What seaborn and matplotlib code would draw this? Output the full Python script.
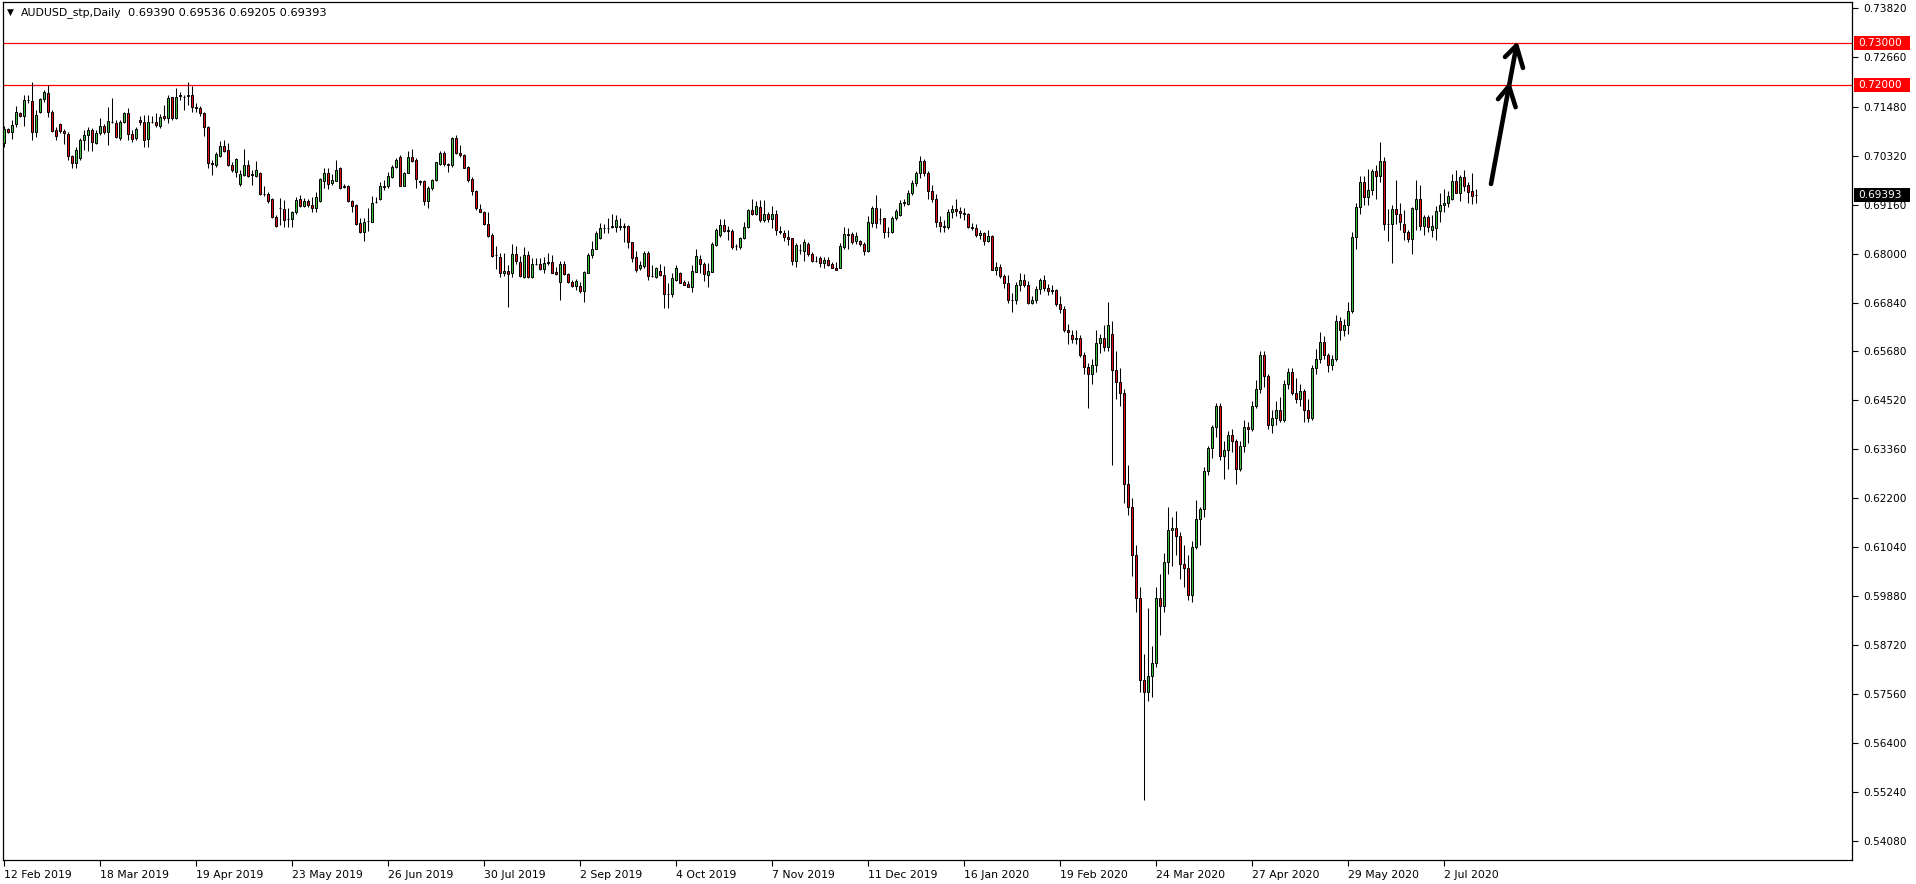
import numpy as np
import pandas as pd
import matplotlib
matplotlib.use("Agg")
import matplotlib.pyplot as plt
import matplotlib.transforms as mtransforms
from matplotlib.patches import Rectangle
import seaborn as sns

# AUDUSD daily candles, 12 Feb 2019 - 14 Jul 2020
opens = [
    .7063, .7095, .7087, .7106, .7132, .7127, .7164, .7162, .7087, .7135,
    .7166, .7180, .7136, .7093, .7106, .7091, .7083, .7031, .7014, .7026,
    .7068, .7081, .7093, .7063, .7085, .7102, .7087, .7113, .7110, .7075,
    .7111, .7134, .7083, .7073, .7117, .7113, .7071, .7113, .7111, .7102,
    .7126, .7121, .7170, .7122, .7173, .7172, .7173, .7177, .7148, .7146,
    .7132, .7101, .7014, .7010, .7032, .7055, .7045, .7011, .6994, .6966,
    .6986, .7010, .6988, .6985, .6990, .6942, .6941, .6929, .6887, .6907,
    .6905, .6881, .6881, .6898, .6929, .6913, .6925, .6914, .6909, .6925,
    .6972, .6990, .6968, .6972, .7004, .6958, .6960, .6925, .6915, .6872,
    .6851, .6877, .6876, .6922, .6929, .6958, .6959, .6982, .7006, .7028,
    .6961, .6992, .7028, .7022, .6971, .6972, .6925, .6955, .6974, .7012,
    .7038, .7012, .7009, .7073, .7038, .7034, .7005, .6976, .6949, .6905,
    .6899, .6871, .6843, .6797, .6791, .6753, .6759, .6753, .6799, .6781,
    .6745, .6797, .6745, .6775, .6775, .6763, .6777, .6780, .6757, .6733,
    .6775, .6751, .6732, .6724, .6723, .6712, .6755, .6797, .6812, .6836,
    .6860, .6860, .6862, .6864, .6866, .6864, .6865, .6827, .6791, .6767,
    .6771, .6801, .6748, .6745, .6759, .6749, .6704, .6704, .6738, .6753,
    .6732, .6728, .6722, .6757, .6787, .6775, .6749, .6757, .6820, .6843,
    .6868, .6855, .6854, .6817, .6816, .6836, .6862, .6903, .6893, .6910,
    .6880, .6893, .6882, .6895, .6853, .6848, .6839, .6836, .6783, .6808,
    .6806, .6823, .6800, .6783, .6789, .6778, .6786, .6775, .6767, .6767,
    .6816, .6846, .6846, .6830, .6830, .6822, .6807, .6873, .6909, .6882,
    .6884, .6850, .6850, .6884, .6891, .6921, .6917, .6943, .6967, .6991,
    .7019, .6990, .6949, .6930, .6875, .6866, .6862, .6898, .6905, .6900,
    .6897, .6895, .6863, .6860, .6845, .6848, .6830, .6842, .6762, .6769,
    .6747, .6730, .6690, .6691, .6726, .6737, .6725, .6683, .6690, .6715,
    .6738, .6718, .6712, .6713, .6680, .6668, .6620, .6608, .6598, .6600,
    .6560, .6532, .6514, .6536, .6588, .6600, .6578, .6610, .6525, .6495,
    .6470, .6255, .6200, .6085, .5985, .5790, .5760, .5800, .5830, .5985,
    .5965, .6070, .6145, .6150, .6130, .6065, .6055, .5990, .6105, .6170,
    .6195, .6285, .6340, .6390, .6440, .6320, .6335, .6370, .6355, .6290,
    .6345, .6390, .6385, .6440, .6480, .6560, .6510, .6395, .6410, .6430,
    .6405, .6490, .6520, .6470, .6455, .6475, .6430, .6410, .6530, .6550,
    .6590, .6560, .6535, .6550, .6640, .6620, .6630, .6665, .6840, .6910,
    .6970, .6935, .6950, .6995, .6985, .7020, .6870, .6870, .6905, .6895,
    .6870, .6850, .6834, .6905, .6929, .6865, .6886, .6856, .6860, .6902,
    .6914, .6921, .6929, .6972, .6944, .6982, .6963, .6948, .69390,
]
highs = [
    .7102, .7097, .7117, .7150, .7136, .7176, .7176, .7206, .7140, .7168,
    .7188, .7200, .7140, .7101, .7109, .7095, .7089, .7034, .7053, .7073,
    .7093, .7099, .7097, .7093, .7121, .7107, .7148, .7168, .7117, .7117,
    .7136, .7144, .7093, .7099, .7126, .7128, .7128, .7126, .7132, .7130,
    .7152, .7176, .7172, .7192, .7182, .7177, .7206, .7198, .7156, .7150,
    .7136, .7103, .7022, .7041, .7067, .7069, .7061, .7016, .7026, .6998,
    .7048, .7022, .6998, .7019, .6993, .6959, .6947, .6931, .6891, .6932,
    .6927, .6907, .6901, .6935, .6939, .6931, .6930, .6935, .6947, .6978,
    .7004, .7002, .6988, .7022, .7006, .6964, .6963, .6927, .6917, .6884,
    .6884, .6907, .6937, .6935, .6969, .6974, .6994, .7010, .7026, .7034,
    .6994, .7042, .7048, .7026, .6974, .6974, .6959, .6976, .7018, .7042,
    .7042, .7014, .7077, .7081, .7057, .7036, .7007, .6982, .6951, .6917,
    .6901, .6898, .6849, .6818, .6802, .6802, .6773, .6822, .6818, .6795,
    .6816, .6806, .6790, .6790, .6790, .6792, .6801, .6797, .6769, .6783,
    .6783, .6754, .6737, .6740, .6733, .6759, .6802, .6830, .6853, .6873,
    .6869, .6884, .6893, .6891, .6884, .6872, .6868, .6828, .6805, .6782,
    .6806, .6805, .6773, .6769, .6775, .6771, .6730, .6753, .6773, .6757,
    .6738, .6734, .6773, .6811, .6797, .6779, .6777, .6828, .6860, .6881,
    .6882, .6866, .6858, .6822, .6840, .6874, .6905, .6929, .6925, .6927,
    .6927, .6899, .6913, .6903, .6865, .6856, .6856, .6838, .6824, .6823,
    .6834, .6828, .6803, .6794, .6795, .6793, .6792, .6781, .6781, .6826,
    .6864, .6860, .6852, .6850, .6832, .6828, .6890, .6913, .6939, .6907,
    .6885, .6864, .6888, .6906, .6927, .6929, .6951, .6975, .6995, .7032,
    .7024, .6995, .6962, .6942, .6890, .6880, .6905, .6915, .6930, .6910,
    .6907, .6897, .6872, .6870, .6856, .6850, .6856, .6843, .6779, .6776,
    .6752, .6750, .6706, .6732, .6754, .6752, .6735, .6700, .6724, .6742,
    .6750, .6728, .6725, .6717, .6700, .6675, .6632, .6620, .6620, .6606,
    .6566, .6540, .6550, .6620, .6610, .6630, .6686, .6640, .6570, .6530,
    .6480, .6300, .6220, .6110, .6010, .5850, .5960, .5870, .6010, .6040,
    .6090, .6200, .6175, .6190, .6140, .6110, .6085, .6120, .6215, .6200,
    .6295, .6345, .6395, .6445, .6445, .6355, .6380, .6385, .6360, .6355,
    .6405, .6400, .6450, .6500, .6570, .6570, .6515, .6430, .6450, .6460,
    .6500, .6530, .6530, .6505, .6490, .6480, .6455, .6535, .6575, .6615,
    .6605, .6565, .6560, .6655, .6650, .6645, .6685, .6850, .6920, .6985,
    .6985, .7000, .7000, .7010, .7064, .7030, .6905, .6915, .6975, .6920,
    .6903, .6856, .6911, .6974, .6963, .6891, .6891, .6891, .6913, .6943,
    .6952, .6948, .6988, .6998, .6986, .6998, .6970, .6992, .69536,
]
lows = [
    .7052, .7085, .7071, .7101, .7123, .7102, .7156, .7068, .7077, .7132,
    .7160, .7124, .7089, .7069, .7085, .7060, .7022, .7004, .7002, .7022,
    .7046, .7042, .7042, .7060, .7081, .7083, .7057, .7109, .7075, .7069,
    .7109, .7069, .7065, .7069, .7105, .7052, .7053, .7109, .7101, .7098,
    .7116, .7109, .7117, .7119, .7164, .7140, .7152, .7135, .7136, .7127,
    .7079, .7004, .6986, .7006, .7030, .7040, .7008, .6994, .6982, .6959,
    .6985, .6982, .6963, .6982, .6939, .6937, .6919, .6885, .6864, .6868,
    .6864, .6864, .6864, .6895, .6911, .6911, .6910, .6898, .6898, .6922,
    .6955, .6953, .6962, .6971, .6953, .6955, .6923, .6899, .6868, .6848,
    .6830, .6854, .6874, .6919, .6927, .6951, .6955, .6980, .7004, .6959,
    .6959, .6990, .7018, .6956, .6962, .6915, .6909, .6951, .6972, .7010,
    .7008, .6994, .7006, .7035, .7030, .7002, .6970, .6939, .6903, .6898,
    .6868, .6839, .6793, .6763, .6745, .6748, .6674, .6745, .6776, .6744,
    .6743, .6743, .6743, .6772, .6761, .6753, .6774, .6753, .6749, .6690,
    .6749, .6730, .6722, .6714, .6706, .6686, .6753, .6790, .6811, .6835,
    .6848, .6848, .6860, .6852, .6856, .6828, .6814, .6779, .6757, .6761,
    .6765, .6738, .6745, .6741, .6748, .6670, .6670, .6698, .6734, .6730,
    .6725, .6721, .6708, .6756, .6753, .6734, .6722, .6756, .6819, .6840,
    .6852, .6832, .6811, .6809, .6812, .6834, .6860, .6891, .6891, .6876,
    .6876, .6876, .6860, .6844, .6846, .6830, .6820, .6773, .6769, .6800,
    .6782, .6794, .6781, .6779, .6769, .6767, .6771, .6765, .6760, .6765,
    .6812, .6812, .6822, .6822, .6819, .6797, .6804, .6864, .6861, .6869,
    .6838, .6839, .6848, .6880, .6890, .6913, .6916, .6938, .6960, .6980,
    .6985, .6930, .6923, .6862, .6850, .6852, .6858, .6885, .6890, .6885,
    .6880, .6860, .6855, .6840, .6835, .6820, .6827, .6760, .6750, .6742,
    .6718, .6683, .6662, .6680, .6712, .6722, .6680, .6680, .6684, .6705,
    .6712, .6702, .6705, .6675, .6660, .6614, .6585, .6589, .6585, .6555,
    .6515, .6434, .6490, .6520, .6565, .6570, .6570, .6300, .6455, .6440,
    .6210, .6180, .6035, .5950, .5760, .5506, .5740, .5750, .5820, .5895,
    .5950, .6040, .6060, .6085, .6030, .6010, .5980, .5975, .6100, .6110,
    .6175, .6275, .6315, .6365, .6310, .6265, .6290, .6330, .6255, .6285,
    .6330, .6350, .6380, .6435, .6470, .6485, .6385, .6375, .6395, .6400,
    .6400, .6480, .6465, .6445, .6440, .6400, .6400, .6405, .6515, .6540,
    .6550, .6520, .6525, .6545, .6595, .6605, .6610, .6660, .6810, .6895,
    .6915, .6915, .6940, .6930, .6970, .6855, .6830, .6777, .6870, .6855,
    .6832, .6828, .6800, .6856, .6856, .6844, .6850, .6840, .6832, .6876,
    .6899, .6911, .6927, .6943, .6925, .6948, .6921, .6918, .69205,
]
closes = [
    .7095, .7087, .7105, .7135, .7127, .7164, .7164, .7087, .7128, .7166,
    .7182, .7136, .7091, .7079, .7091, .7085, .7031, .7014, .7046, .7069,
    .7081, .7093, .7065, .7085, .7102, .7087, .7114, .7113, .7077, .7113,
    .7132, .7083, .7071, .7095, .7111, .7068, .7113, .7113, .7104, .7124,
    .7121, .7168, .7121, .7170, .7175, .7170, .7177, .7148, .7146, .7132,
    .7101, .7014, .7012, .7037, .7055, .7043, .7010, .6998, .7023, .6988,
    .7010, .6985, .6987, .6998, .6941, .6942, .6925, .6887, .6866, .6907,
    .6880, .6882, .6899, .6927, .6913, .6925, .6914, .6909, .6933, .6977,
    .6990, .6965, .6974, .6998, .6955, .6959, .6925, .6913, .6869, .6850,
    .6874, .6878, .6921, .6923, .6960, .6959, .6984, .7006, .7022, .6960,
    .6992, .7028, .7020, .6976, .6970, .6925, .6956, .6974, .7016, .7038,
    .7012, .7010, .7073, .7038, .7033, .7004, .6974, .6949, .6909, .6899,
    .6871, .6842, .6795, .6796, .6753, .6759, .6752, .6799, .6783, .6748,
    .6797, .6745, .6775, .6776, .6763, .6778, .6781, .6755, .6751, .6775,
    .6751, .6732, .6724, .6735, .6712, .6757, .6797, .6812, .6848, .6860,
    .6861, .6861, .6865, .6880, .6864, .6865, .6827, .6790, .6761, .6773,
    .6801, .6748, .6747, .6765, .6749, .6704, .6705, .6741, .6765, .6731,
    .6726, .6722, .6759, .6794, .6775, .6751, .6759, .6822, .6856, .6868,
    .6854, .6853, .6816, .6818, .6836, .6862, .6903, .6893, .6913, .6880,
    .6893, .6882, .6895, .6856, .6852, .6840, .6835, .6783, .6820, .6808,
    .6827, .6800, .6783, .6782, .6777, .6786, .6774, .6767, .6761, .6818,
    .6846, .6845, .6828, .6842, .6822, .6807, .6874, .6909, .6872, .6883,
    .6850, .6851, .6885, .6901, .6921, .6922, .6943, .6967, .6991, .7019,
    .6990, .6949, .6930, .6875, .6866, .6862, .6898, .6905, .6900, .6897,
    .6895, .6863, .6860, .6845, .6848, .6830, .6842, .6762, .6769, .6747,
    .6730, .6690, .6691, .6726, .6737, .6725, .6683, .6690, .6715, .6738,
    .6718, .6712, .6713, .6680, .6668, .6620, .6615, .6598, .6600, .6560,
    .6532, .6514, .6536, .6588, .6600, .6578, .6630, .6525, .6495, .6470,
    .6255, .6200, .6085, .5985, .5790, .5760, .5800, .5830, .5985, .5965,
    .6070, .6145, .6150, .6130, .6065, .6055, .5990, .6105, .6170, .6195,
    .6285, .6340, .6390, .6440, .6320, .6335, .6370, .6355, .6290, .6345,
    .6390, .6385, .6440, .6480, .6560, .6510, .6395, .6410, .6430, .6405,
    .6490, .6520, .6470, .6455, .6475, .6430, .6410, .6530, .6550, .6590,
    .6560, .6535, .6550, .6640, .6620, .6630, .6665, .6840, .6910, .6970,
    .6935, .6950, .6995, .6985, .7020, .6870, .6870, .6905, .6895, .6875,
    .6850, .6834, .6907, .6929, .6865, .6886, .6862, .6865, .6902, .6915,
    .6919, .6936, .6972, .6944, .6982, .6960, .6947, .6937, .69393,
]

date_labels = ["12 Feb 2019", "18 Mar 2019", "19 Apr 2019", "23 May 2019",
               "26 Jun 2019", "30 Jul 2019", "2 Sep 2019", "4 Oct 2019",
               "7 Nov 2019", "11 Dec 2019", "16 Jan 2020", "19 Feb 2020",
               "24 Mar 2020", "27 Apr 2020", "29 May 2020", "2 Jul 2020"]
price_ticks = [0.73820, 0.72660, 0.71480, 0.70320, 0.69160, 0.68000,
               0.66840, 0.65680, 0.64520, 0.63360, 0.62200, 0.61040,
               0.59880, 0.58720, 0.57560, 0.56400, 0.55240, 0.54080]
levels = [0.73, 0.72]
last_price = 0.69393
symbol = "AUDUSD_stp,Daily"
ohlc_text = "0.69390 0.69536 0.69205 0.69393"

# hand drawn arrow (bar index, price)
arrow_strokes = [
    ([371.75, 378.1], [0.6965, 0.7292]),
    ([375.25, 378.1, 379.75], [0.7266, 0.7293, 0.7240]),
    ([373.5, 376.25, 377.9], [0.7166, 0.7197, 0.7147]),
]

df = pd.DataFrame({"open": opens, "high": highs, "low": lows, "close": closes})
df["bar"] = np.arange(len(df))
df["up"] = df["close"] >= df["open"]

W, H = 1916, 884
sns.set_theme(style="white")
plt.rcParams["font.family"] = ["DejaVu Sans"]
plt.rcParams["font.size"] = 7.5

fig = plt.figure(figsize=(W / 100, H / 100), dpi=100)
fig.patch.set_facecolor("white")
ax = fig.add_axes([2.5 / W, (H - 860) / H, (1852 - 2.5) / W, (860 - 2) / H])
ax.set_facecolor("white")

# candles
ax.vlines(df["bar"], df["low"], df["high"], color="black", linewidth=0.75, zorder=2)
body_colors = np.where(df["up"], "#3dbb3d", "#e01010")
ax.bar(df["bar"], df["close"] - df["open"], bottom=df["open"], width=0.6,
       color=body_colors, edgecolor="black", linewidth=0.7, zorder=3)

# level lines
for lvl in levels:
    ax.axhline(lvl, color="#ff0000", linewidth=0.9, zorder=1)

# arrow
for xs, ys in arrow_strokes:
    ax.plot(xs, ys, color="black", linewidth=3.3, solid_capstyle="round",
            solid_joinstyle="round", zorder=5)

ax.set_xlim(-0.375, 462)
ax.set_ylim(0.53630, 0.73962)

ax.set_xticks(np.arange(0, len(df), 24)[:len(date_labels)])
ax.set_xticklabels(date_labels)
for lbl in ax.get_xticklabels():
    lbl.set_horizontalalignment("left")
ax.yaxis.tick_right()
ax.set_yticks(price_ticks)
ax.set_yticklabels([f"{v:.5f}" for v in price_ticks])

ax.tick_params(axis="x", bottom=True, top=False, direction="out", length=4,
               width=0.8, pad=3, colors="black", labelsize=7.8)
ax.tick_params(axis="y", left=False, right=True, labelleft=False, labelright=True,
               direction="out", length=4, width=0.8, pad=4, colors="black", labelsize=7.6)
for side in ["left", "right", "top", "bottom"]:
    ax.spines[side].set_visible(True)
    ax.spines[side].set_color("black")
    ax.spines[side].set_linewidth(0.9)

# price tags on the right scale
trans = mtransforms.blended_transform_factory(ax.transAxes, ax.transData)
ax_w = 1849.5
px = 0.00023698
tag_x0 = 1 + 2 / ax_w
tag_w = 56 / ax_w
tags = [(lvl, "#ff0000") for lvl in levels] + [(last_price, "black")]
for val, col in tags:
    ax.add_patch(Rectangle((tag_x0, val - 7 * px), tag_w, 14 * px, transform=trans,
                           facecolor=col, edgecolor="none", clip_on=False, zorder=6))
    ax.text(1 + 6 / ax_w, val, f"{val:.5f}", transform=trans, color="white",
            fontsize=7.6, ha="left", va="center", clip_on=False, zorder=7)

# header
fig.text(7 / W, 1 - 12.5 / H, "\u25bc", fontsize=6.5, color="black", va="center", ha="left")
fig.text(21 / W, 1 - 12.5 / H, symbol, fontsize=7.8, color="black", va="center", ha="left")
fig.text(128 / W, 1 - 12.5 / H, ohlc_text, fontsize=8.2, color="black", va="center", ha="left")

fig.savefig("out.png", dpi=100)
